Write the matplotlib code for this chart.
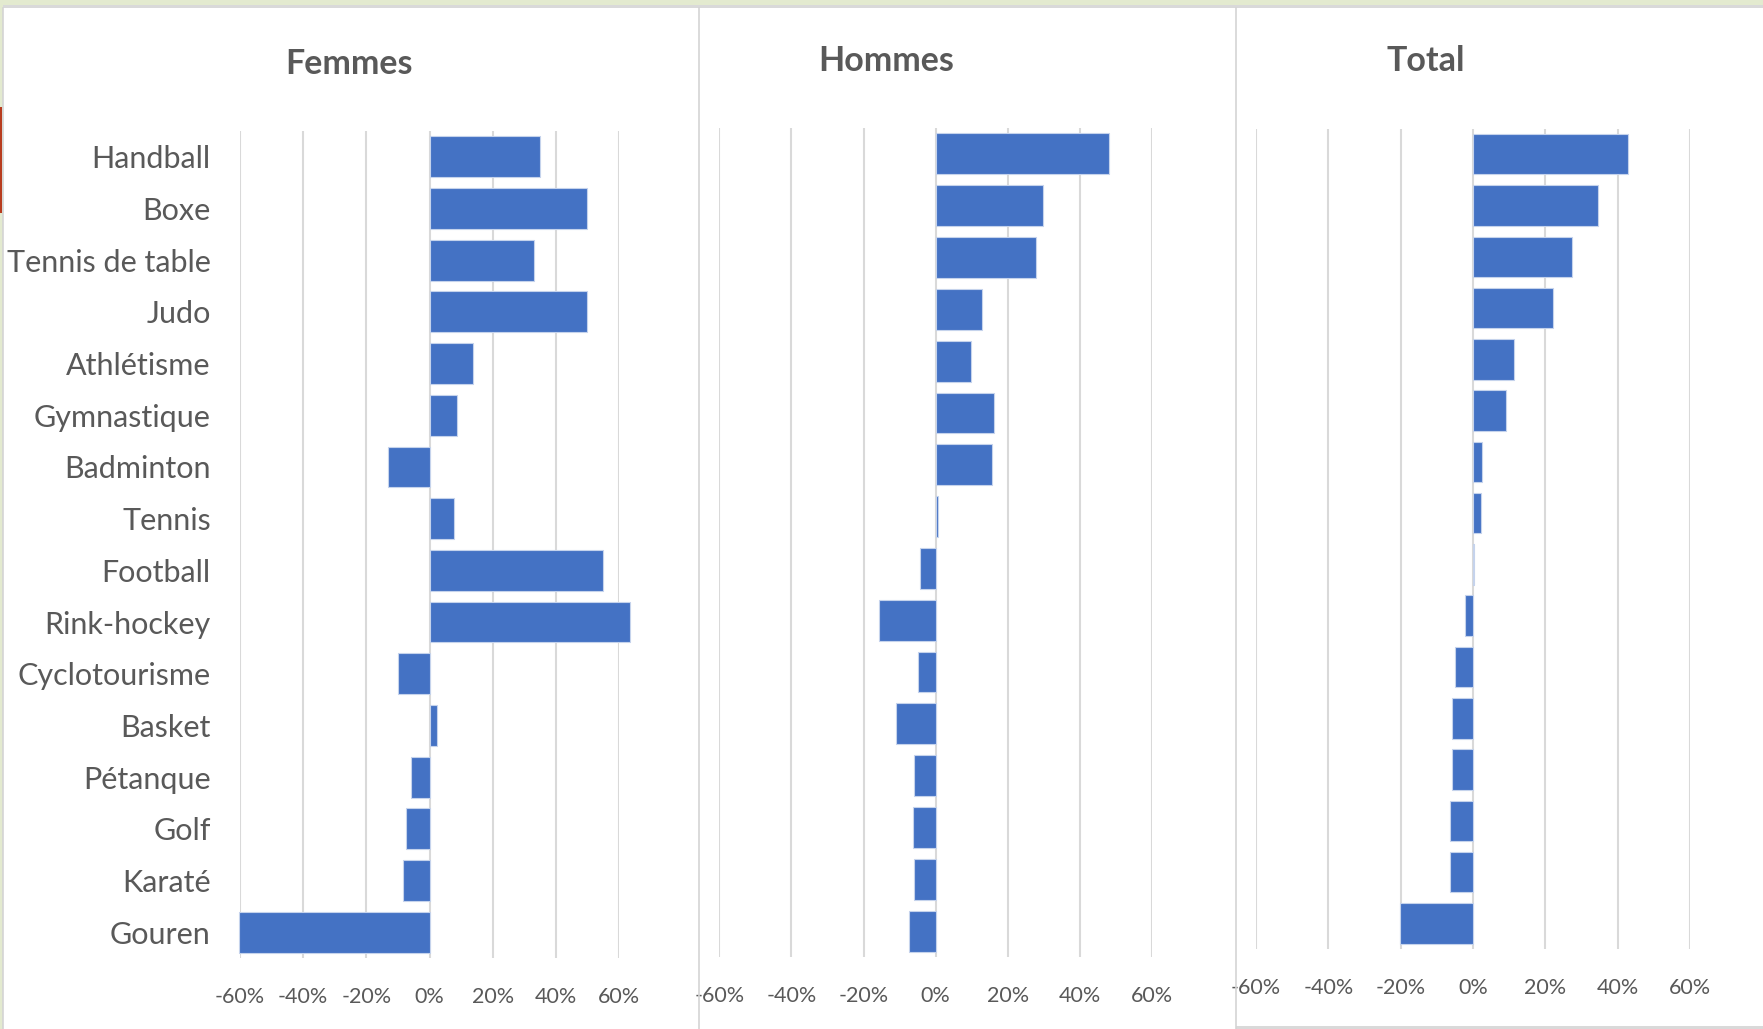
import matplotlib
matplotlib.use("Agg")
import matplotlib.pyplot as plt
from matplotlib import font_manager
from matplotlib.ticker import FuncFormatter, FixedLocator
from matplotlib.patches import Rectangle
from matplotlib.lines import Line2D

# --- données ---
sports = ['Handball', 'Boxe', 'Tennis de table', 'Judo', 'Athlétisme',
          'Gymnastique', 'Badminton', 'Tennis', 'Football', 'Rink-hockey',
          'Cyclotourisme', 'Basket', 'Pétanque', 'Golf', 'Karaté', 'Gouren']
femmes = [0.35, 0.50, 0.33, 0.50, 0.137, 0.086, -0.132, 0.079, 0.55, 0.635,
          -0.101, 0.025, -0.059, -0.074, -0.085, -0.602]
hommes = [0.481, 0.297, 0.277, 0.129, 0.098, 0.163, 0.156, 0.006, -0.043,
          -0.157, -0.05, -0.11, -0.06, -0.064, -0.06, -0.074]
total = [0.429, 0.346, 0.275, 0.221, 0.114, 0.09, 0.026, 0.023, 0.003,
         -0.021, -0.051, -0.058, -0.058, -0.064, -0.064, -0.202]
xticks = [-0.6, -0.4, -0.2, 0.0, 0.2, 0.4, 0.6]

W, H = 1763, 1029
BAR = '#4472c4'
TXT = '#595959'
GRID = '#d9d9d9'


def available(name):
    try:
        font_manager.findfont(name, fallback_to_default=False)
        return True
    except ValueError:
        return False


# police étroite si possible (le graphique d'origine est en Calibri tassé)
if available('DejaVu Sans Condensed'):
    FONT = 'DejaVu Sans Condensed'
    SZ_LAB, SZ_TITLE, SZ_TICK = 21.5, 21.5, 14.5
else:
    FONT = 'Lato'
    SZ_LAB, SZ_TITLE, SZ_TICK = 22, 24.5, 15.5
plt.rcParams['font.family'] = [FONT, 'DejaVu Sans']


def fig_rect(x0, x1, y0, y1):
    # pixels (origine en haut à gauche) -> fraction de figure
    return [x0 / W, 1 - y1 / H, (x1 - x0) / W, (y1 - y0) / H]


fig = plt.figure(figsize=(W / 100, H / 100), dpi=100)
fig.patch.set_facecolor('white')

# cadre / bandeau de fond
fig.add_artist(Rectangle((0, 1 - 5 / H), 1, 5 / H, transform=fig.transFigure,
                         color='#e3eacf', lw=0))
fig.add_artist(Rectangle((0, 1 - 8 / H), 1, 3 / H, transform=fig.transFigure,
                         color='#d9d9d9', lw=0))
fig.add_artist(Rectangle((0, 0), 2.5 / W, 1, transform=fig.transFigure,
                         color='#e3eacf', lw=0))
fig.add_artist(Rectangle((0, 1 - 213 / H), 1.5 / W, 106 / H,
                         transform=fig.transFigure, color='#b83c1e', lw=0))
for xp in [3, 698.5, 1236]:
    fig.add_artist(Line2D([xp / W, xp / W], [0, 1 - 8 / H],
                          transform=fig.transFigure, color='#d4d4d4', lw=1.2))
fig.add_artist(Rectangle((1236 / W, 0), 1 - 1236 / W, 3 / H,
                         transform=fig.transFigure, color='#d9d9d9', lw=0))

panels = [
    ('Femmes', femmes, (240, 619, 131, 958), (349.5, 64), True),
    ('Hommes', hommes, (719.3, 1152, 128, 957), (886, 61), False),
    ('Total', total, (1256, 1690, 128.6, 949), (1426, 61), False),
]

for title, vals, (x0, x1, y0, y1), (tx, ty), show_labels in panels:
    ax = fig.add_axes(fig_rect(x0, x1, y0, y1))
    ax.set_facecolor('none')
    pos = list(range(len(sports)))
    ax.barh(pos, vals, height=0.79, color=BAR, edgecolor='#c5d3ec',
            linewidth=0.8, zorder=3, clip_on=False)
    ax.set_xlim(-0.6, 0.6)
    ax.set_ylim(len(sports) - 0.5, -0.5)
    ax.xaxis.set_major_locator(FixedLocator(xticks))
    ax.xaxis.set_major_formatter(FuncFormatter(lambda v, p: f"{v * 100:.0f}%"))
    ax.grid(axis='x', color=GRID, linewidth=1.5, zorder=0)
    for s in ax.spines.values():
        s.set_visible(False)
    ax.tick_params(axis='x', length=0, pad=21, labelsize=SZ_TICK, labelcolor=TXT)
    if show_labels:
        ax.set_yticks(pos)
        ax.set_yticklabels(sports)
        ax.tick_params(axis='y', length=0, pad=21, labelsize=SZ_LAB,
                       labelcolor=TXT)
    else:
        ax.set_yticks([])
    fig.text(tx / W, 1 - ty / H, title, ha='center', va='center',
             fontsize=SZ_TITLE, fontweight='bold', color=TXT)

fig.savefig('out.png', dpi=100, facecolor=fig.get_facecolor())
